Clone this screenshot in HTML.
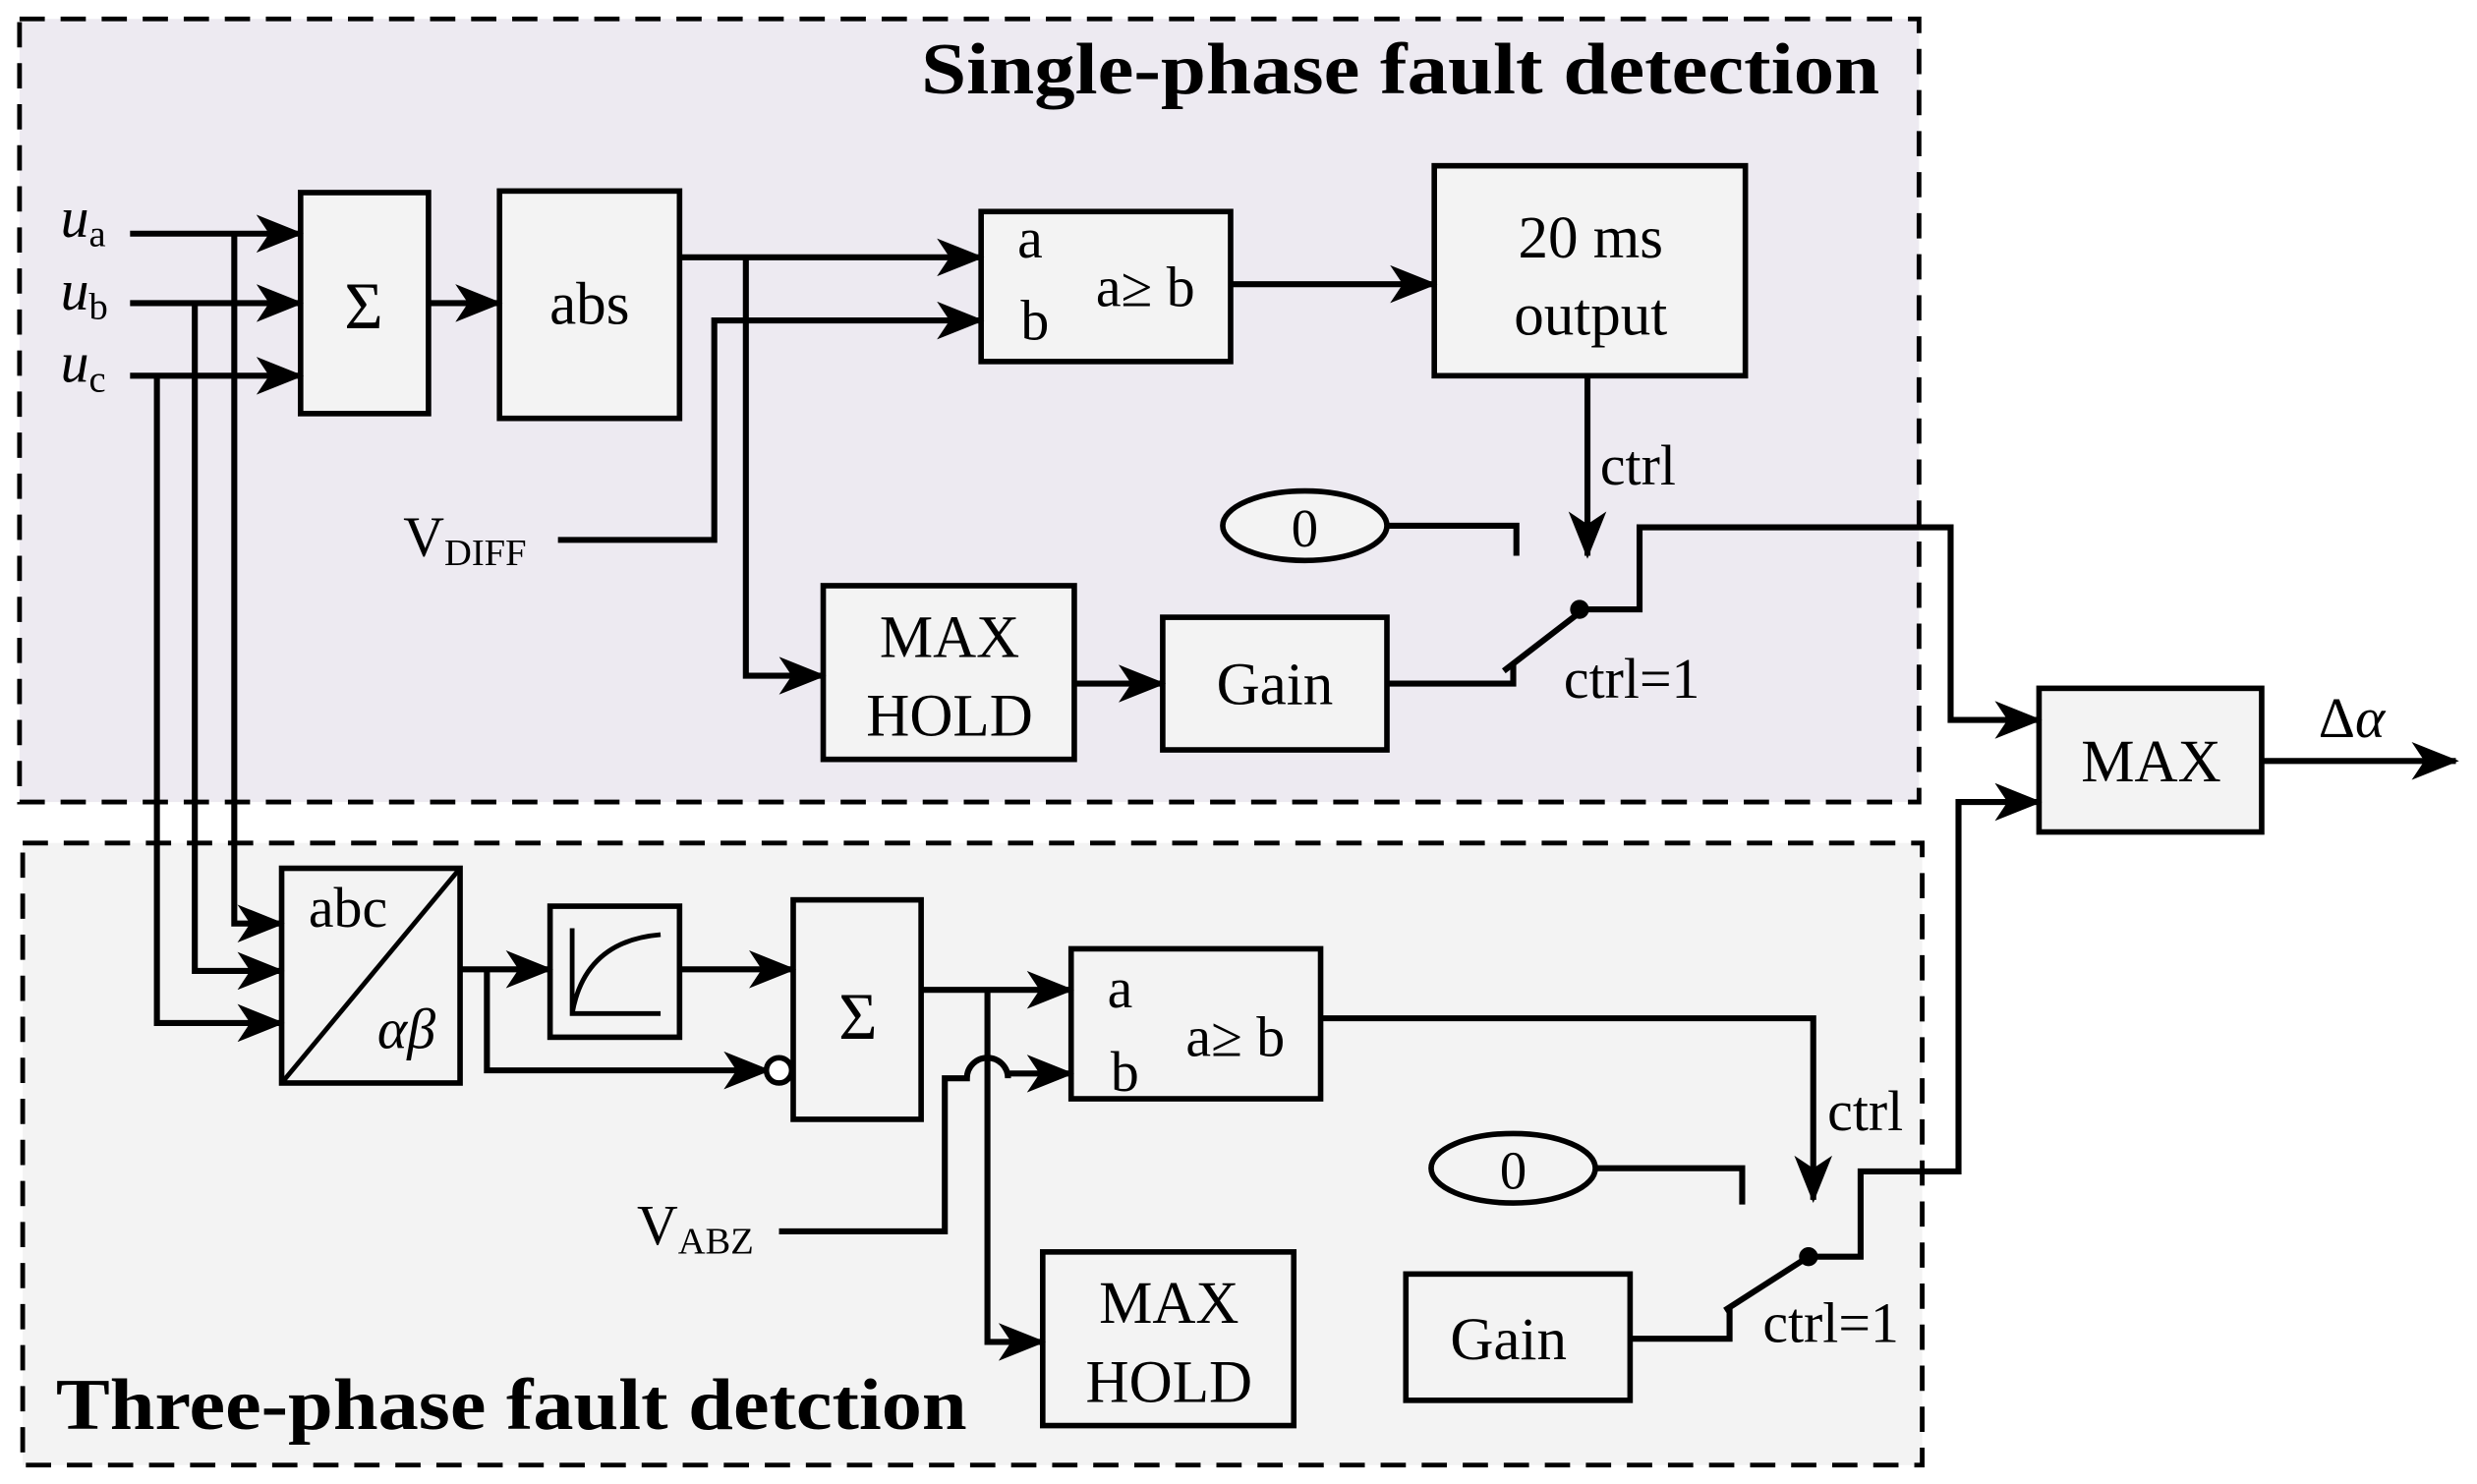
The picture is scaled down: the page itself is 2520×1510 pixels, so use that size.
<!DOCTYPE html>
<html><head><meta charset="utf-8"><style>
html,body{margin:0;padding:0;background:#fff;}
svg{display:block;}
text{font-family:"Liberation Serif",serif;fill:#000;}
</style></head><body>
<svg width="2520" height="1510" viewBox="0 0 1568 940" xmlns="http://www.w3.org/2000/svg">
<defs>
<marker id="ar" markerUnits="userSpaceOnUse" markerWidth="30" markerHeight="24" refX="28" refY="12" orient="auto">
<path d="M0,0 L30,12 L0,24 L8,12 Z" fill="#000"/>
</marker>
</defs>
<rect x="12" y="12" width="1203" height="496" fill="#edeaf1" stroke="#000" stroke-width="3" stroke-dasharray="16,10"/>
<rect x="14" y="534" width="1203" height="394" fill="#f3f3f3" stroke="#000" stroke-width="3" stroke-dasharray="16,10"/>
<text x="583" y="59" font-size="46" font-weight="bold" textLength="607" lengthAdjust="spacingAndGlyphs">Single-phase fault detection</text>
<text x="35" y="905" font-size="46" font-weight="bold" textLength="577" lengthAdjust="spacingAndGlyphs">Three-phase fault detction</text>

<g fill="#f3f3f3" stroke="#000" stroke-width="3.5">
<rect x="190" y="122" width="81" height="140"/>
<rect x="316" y="121" width="114" height="144"/>
<rect x="621" y="134" width="158" height="95"/>
<rect x="908" y="105" width="197" height="133"/>
<rect x="521" y="371" width="159" height="110"/>
<rect x="736" y="391" width="142" height="84"/>
<ellipse cx="826" cy="333" rx="52" ry="22"/>
<rect x="1291" y="436" width="141" height="91"/>
<rect x="178" y="550" width="113" height="136"/>
<rect x="348" y="574" width="82" height="83"/>
<rect x="502" y="570" width="81" height="139"/>
<rect x="678" y="601" width="158" height="95"/>
<rect x="660" y="793" width="159" height="110"/>
<rect x="890" y="807" width="142" height="80"/>
<ellipse cx="958" cy="740" rx="52" ry="22"/>
</g>
<g stroke="#000" stroke-width="3" fill="none">
<line x1="178" y1="686" x2="291" y2="550"/>
<path d="M362,588 V642 H418 M362,642 Q370,596 418,592"/>
</g>

<g font-size="38" text-anchor="middle">
<text x="230" y="208" font-size="42">Σ</text>
<text x="373" y="205">abs</text>
<text x="652" y="163" font-size="36">a</text>
<text x="655" y="215" font-size="36">b</text>
<text x="725" y="194" font-size="36">a≥ b</text>
<text x="1007" y="163">20 ms</text>
<text x="1007" y="212">output</text>
<text x="601" y="416">MAX</text>
<text x="601" y="466">HOLD</text>
<text x="807" y="446">Gain</text>
<text x="826" y="346" font-size="34">0</text>
<text x="1362" y="495">MAX</text>
<text x="220" y="587" font-size="36">abc</text>
<text x="257" y="664" font-size="36" font-style="italic">αβ</text>
<text x="543" y="658" font-size="42">Σ</text>
<text x="709" y="638" font-size="36">a</text>
<text x="712" y="691" font-size="36">b</text>
<text x="782" y="669" font-size="36">a≥ b</text>
<text x="740" y="838">MAX</text>
<text x="740" y="888">HOLD</text>
<text x="955" y="861">Gain</text>
<text x="958" y="753" font-size="34">0</text>
</g>
<g font-size="36">
<text x="38" y="150" font-style="italic">u<tspan font-size="24" font-style="normal" dy="6">a</tspan></text>
<text x="38" y="196" font-style="italic">u<tspan font-size="24" font-style="normal" dy="6">b</tspan></text>
<text x="38" y="242" font-style="italic">u<tspan font-size="24" font-style="normal" dy="6">c</tspan></text>
<text x="255" y="352">V<tspan font-size="24" dy="6">DIFF</tspan></text>
<text x="403" y="788">V<tspan font-size="24" dy="6">ABZ</tspan></text>
<text x="1013" y="307">ctrl</text>
<text x="990" y="442">ctrl=1</text>
<text x="1157" y="716">ctrl</text>
<text x="1116" y="850">ctrl=1</text>
<text x="1468" y="467" font-style="italic"><tspan font-style="normal">Δ</tspan>α</text>
</g>

<g stroke="#000" stroke-width="3.8" fill="none">
<path d="M82,148 H190" marker-end="url(#ar)"/>
<path d="M82,192 H190" marker-end="url(#ar)"/>
<path d="M82,238 H190" marker-end="url(#ar)"/>
<path d="M148,148 V585 H178" marker-end="url(#ar)"/>
<path d="M123,192 V615 H178" marker-end="url(#ar)"/>
<path d="M99,238 V648 H178" marker-end="url(#ar)"/>
<path d="M271,192 H316" marker-end="url(#ar)"/>
<path d="M430,163 H621" marker-end="url(#ar)"/>
<path d="M472,163 V428 H521" marker-end="url(#ar)"/>
<path d="M353,342 H452 V203 H621" marker-end="url(#ar)"/>
<path d="M779,180 H908" marker-end="url(#ar)"/>
<path d="M1005,238 V352" marker-end="url(#ar)"/>
<path d="M878,333 H960 V352"/>
<path d="M680,433 H736" marker-end="url(#ar)"/>
<path d="M878,433 H958 V420"/>
<path d="M952,425 L1000,388"/>
<path d="M1000,386 H1038 V334 H1235 V456 H1291" marker-end="url(#ar)"/>
<path d="M1432,482 H1555" marker-end="url(#ar)"/>
<path d="M291,614 H348" marker-end="url(#ar)"/>
<path d="M308,614 V678 H486" marker-end="url(#ar)"/>
<path d="M430,614 H502" marker-end="url(#ar)"/>
<path d="M583,627 H678" marker-end="url(#ar)"/>
<path d="M625,627 V850 H660" marker-end="url(#ar)"/>
<path d="M493,780 H598 V683 H612 A13,13 0 0 1 638,683 V680 H678" marker-end="url(#ar)"/>
<path d="M836,645 H1148 V760" marker-end="url(#ar)"/>
<path d="M1010,740 H1103 V763"/>
<path d="M1032,848 H1095 V827"/>
<path d="M1092,830 L1145,796"/>
<path d="M1145,796 H1178 V742 H1240 V508 H1291" marker-end="url(#ar)"/>
</g>
<circle cx="1000" cy="386" r="6" fill="#000"/>
<circle cx="1145" cy="796" r="6" fill="#000"/>
<circle cx="493" cy="678" r="8" fill="#fff" stroke="#000" stroke-width="3.5"/>
</svg>
</body></html>
